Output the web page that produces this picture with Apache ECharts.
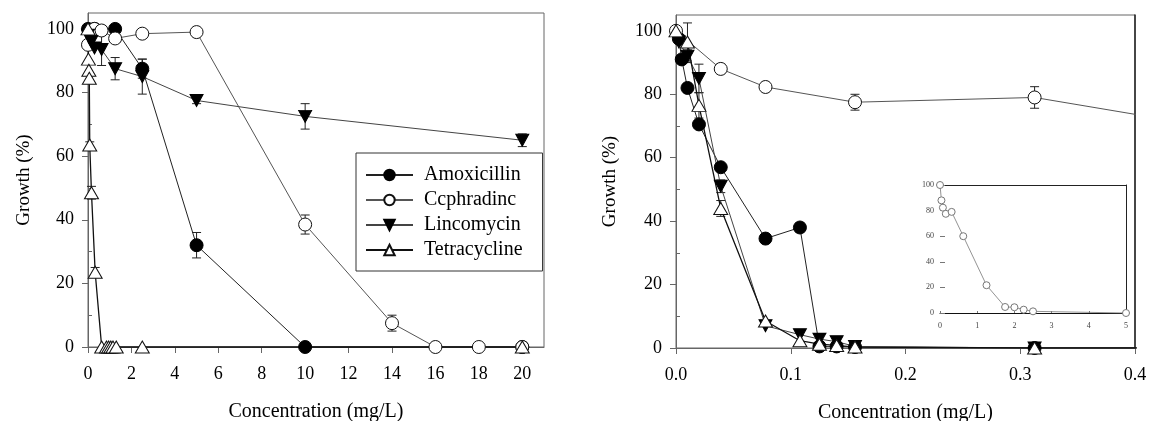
<!DOCTYPE html>
<html><head><meta charset="utf-8">
<script src="https://cdn.jsdelivr.net/npm/echarts@6/dist/echarts.min.js"></script>
<style>html,body{margin:0;padding:0;background:#fff}#c{width:1149px;height:421px}</style>
</head><body><div id="c"></div>
<script>
// ---------- Data: left panel (0-21 mg/L) ----------
const seriesNames = ['Amoxicillin', 'Ccphradinc', 'Lincomycin', 'Tetracycline'];

const L_amox_x = [0, 0.3, 1.25, 2.5, 5, 10, 20];
const L_amox_y = [100, 100, 100, 87.5, 32, 0, 0];
const L_amox_e = [0, 0, 0, 3, 4, 0, 0];

const L_ceph_x = [0, 0.3, 0.625, 1.25, 2.5, 5, 10, 14, 16, 18, 20];
const L_ceph_y = [95, 100, 99.5, 97, 98.5, 99, 38.5, 7.5, 0, 0, 0];
const L_ceph_e = [0, 0, 1.5, 0, 0, 0, 3, 2.5, 0, 0, 0];

const L_linc_x = [0, 0.15, 0.3, 0.625, 1.25, 2.5, 5, 10, 20];
const L_linc_y = [98, 96, 94, 93.5, 87.5, 85, 77.5, 72.5, 65];
const L_linc_e = [0, 0, 0, 5, 3.5, 5.5, 1, 4, 2];

const L_tetr_x = [0, 0.02, 0.04, 0.06, 0.08, 0.16, 0.33, 0.63, 0.85, 0.95, 1.05, 1.15, 1.3, 2.5, 20];
const L_tetr_y = [100, 90.5, 87, 84.5, 63.5, 48.5, 23.5, 0, 0, 0, 0, 0, 0, 0, 0];
const L_tetr_e = [0, 0, 0, 0, 1, 2, 1.5, 0, 0, 0, 0, 0, 0, 0, 0];

// ---------- Data: right panel (0-0.4 mg/L) ----------
const R_amox_x = [0.0025, 0.005, 0.01, 0.02, 0.039, 0.078, 0.108, 0.125, 0.14, 0.156, 0.3125, 0.625];
const R_amox_y = [97.5, 91, 82, 70.5, 57, 34.5, 38, 0.5, 0.5, 0.3, 0, 0];
const R_amox_e = [0, 0, 0, 0, 0, 1, 1.5, 0, 0, 0, 0, 0];

const R_ceph_x = [0, 0.039, 0.078, 0.156, 0.3125, 0.625];
const R_ceph_y = [100, 88, 82.3, 77.5, 79, 60];
const R_ceph_e = [0, 1.5, 0, 2.5, 3.4, 0];

const R_linc_x = [0.0025, 0.01, 0.02, 0.039, 0.078, 0.108, 0.125, 0.14, 0.156, 0.3125, 0.625];
const R_linc_y = [96.5, 92, 85, 51, 7, 4.2, 2.8, 2, 0.5, 0, 0];
const R_linc_e = [0, 2, 4.5, 2, 0, 0, 0, 0, 0, 0, 0];

const R_tetr_x = [0, 0.01, 0.02, 0.039, 0.078, 0.108, 0.125, 0.14, 0.156, 0.3125, 0.625];
const R_tetr_y = [100, 96.5, 76.5, 44, 8.5, 2.3, 1.2, 0.8, 0.3, 0, 0];
const R_tetr_e = [0, 6, 4, 2.5, 0, 0, 0, 0, 0, 0, 0];

// ---------- Data: inset (Cephradine, 0-5 mg/L) ----------
const I_ceph_x = [0, 0.039, 0.078, 0.156, 0.3125, 0.625, 1.25, 1.75, 2, 2.25, 2.5, 5];
const I_ceph_y = [100, 88, 82.3, 77.5, 79, 60, 21.7, 4.7, 4.5, 2.6, 1.3, 0];

// ---------- Tick labels ----------
const L_xTicks = [0, 2, 4, 6, 8, 10, 12, 14, 16, 18, 20];
const yTicks = [0, 20, 40, 60, 80, 100];
const yMinorTicks = [10, 30, 50, 70, 90];
const R_xTicks = [0, 0.1, 0.2, 0.3, 0.4];
const I_xTicks = [0, 1, 2, 3, 4, 5];
const I_yTicks = [0, 20, 40, 60, 80, 100];

// ---------- Build ----------
const FONT = "'Liberation Serif', 'Times New Roman', 'DejaVu Serif', serif";
const AX = '#666';
function pts(xs, ys) { return xs.map((x, i) => [x, ys[i]]); }
function errs(xs, ys, es) { return xs.map((x, i) => [x, ys[i], es[i]]).filter(d => d[2] > 0); }

const styles = [
  { symbol: 'circle', symbolSize: 13, symbolRotate: 0, item: { color: '#000', borderColor: '#000', borderWidth: 1 }, line: '#222', lw: 1 },
  { symbol: 'circle', symbolSize: 13, symbolRotate: 0, item: { color: '#fff', borderColor: '#111', borderWidth: 1 }, line: '#555', lw: 1 },
  { symbol: 'triangle', symbolSize: [13, 12], symbolRotate: 180, item: { color: '#000', borderColor: '#000', borderWidth: 1 }, line: '#444', lw: 1 },
  { symbol: 'triangle', symbolSize: [14, 12], symbolRotate: 0, item: { color: '#fff', borderColor: '#111', borderWidth: 1 }, line: '#111', lw: 1.3 }
];

function lineSeries(idx, data, axisIdx, clip) {
  const s = styles[idx];
  return {
    type: 'line', name: seriesNames[idx], data: data,
    xAxisIndex: axisIdx, yAxisIndex: axisIdx,
    symbol: s.symbol, symbolSize: s.symbolSize, symbolRotate: s.symbolRotate,
    showSymbol: true, showAllSymbol: true, clip: clip,
    itemStyle: s.item, lineStyle: { color: s.line, width: s.lw },
    z: 3, silent: true, animation: false
  };
}

function errRender(params, api) {
  const x = api.value(0), y = api.value(1), e = api.value(2);
  const p1 = api.coord([x, y + e]), p2 = api.coord([x, y - e]);
  const w = 4.5;
  const st = { stroke: '#222', lineWidth: 1 };
  return { type: 'group', children: [
    { type: 'line', shape: { x1: p1[0], y1: p1[1], x2: p2[0], y2: p2[1] }, style: st },
    { type: 'line', shape: { x1: p1[0] - w, y1: p1[1], x2: p1[0] + w, y2: p1[1] }, style: st },
    { type: 'line', shape: { x1: p2[0] - w, y1: p2[1], x2: p2[0] + w, y2: p2[1] }, style: st }
  ]};
}
function errSeries(data, axisIdx) {
  return { type: 'custom', renderItem: errRender, data: data, xAxisIndex: axisIdx, yAxisIndex: axisIdx,
    encode: { x: 0, y: 1 }, z: 2, silent: true, animation: false, clip: false };
}

const labelStyle = { fontFamily: FONT, fontSize: 18, color: '#000' };
const nameStyle = { fontFamily: FONT, fontSize: 19, color: '#000' };

function mainX(grid, min, max, interval, ticks, fmt) {
  return {
    type: 'value', gridIndex: grid, min: min, max: max, interval: interval,
    axisLine: { show: true, onZero: false, lineStyle: { color: AX, width: 1 } },
    axisTick: { show: true, inside: false, length: 6, customValues: ticks, lineStyle: { color: AX } },
    axisLabel: Object.assign({ margin: 18, customValues: ticks, formatter: fmt }, labelStyle),
    splitLine: { show: false },
    name: 'Concentration (mg/L)', nameLocation: 'middle', nameGap: 55, nameTextStyle: Object.assign({}, nameStyle, { fontSize: 20 })
  };
}
function mainY(grid, gap) {
  return {
    type: 'value', gridIndex: grid, min: 0, max: 105, interval: 20,
    axisLine: { show: true, onZero: false, lineStyle: { color: AX, width: 1 } },
    axisTick: { show: true, inside: false, length: 6, customValues: yTicks, lineStyle: { color: AX } },
    axisLabel: Object.assign({ margin: 14, customValues: yTicks }, labelStyle),
    splitLine: { show: false },
    name: 'Growth (%)', nameLocation: 'middle', nameGap: gap, nameTextStyle: nameStyle
  };
}
function minorY(grid) {
  return {
    type: 'value', gridIndex: grid, min: 0, max: 105, interval: 10,
    axisLine: { show: false },
    axisTick: { show: true, inside: false, length: 4, customValues: yMinorTicks, lineStyle: { color: AX } },
    axisLabel: { show: false }, splitLine: { show: false }
  };
}

const option = {
  animation: false,
  backgroundColor: '#fff',
  grid: [
    { left: 88, top: 13, width: 456, height: 334, show: true, borderColor: AX, borderWidth: 1, backgroundColor: 'transparent', containLabel: false, outerBoundsMode: 'none' },
    { left: 676, top: 15, width: 459, height: 333, show: true, borderColor: AX, borderWidth: 1, backgroundColor: 'transparent', containLabel: false, outerBoundsMode: 'none' },
    { left: 940, top: 185, width: 186, height: 128, show: false, containLabel: false, outerBoundsMode: 'none' }
  ],
  legend: {
    data: seriesNames, left: 356, top: 153, orient: 'vertical',
    itemWidth: 47, itemHeight: 13, itemGap: 5, padding: [12, 20, 11, 9],
    borderColor: '#333', borderWidth: 1, backgroundColor: '#fff',
    selectedMode: false,
    textStyle: { fontFamily: FONT, fontSize: 20, color: '#000', padding: [0, 0, 0, 6] }
  },
  xAxis: [
    mainX(0, 0, 21, 2, L_xTicks, v => String(v)),
    mainX(1, 0, 0.4, 0.1, R_xTicks, v => v.toFixed(1)),
    { // inset bottom
      type: 'value', gridIndex: 2, min: 0, max: 5, interval: 1,
      axisLine: { show: true, onZero: false, lineStyle: { color: '#111', width: 1 } },
      axisTick: { show: true, inside: true, length: 2, customValues: I_xTicks, lineStyle: { color: '#777' } },
      axisLabel: { fontFamily: FONT, fontSize: 8, color: '#444', margin: 9, customValues: I_xTicks },
      splitLine: { show: false }
    },
    { // inset top frame
      type: 'value', gridIndex: 2, min: 0, max: 5, position: 'top',
      axisLine: { show: true, onZero: false, lineStyle: { color: '#222', width: 1 } },
      axisTick: { show: false }, axisLabel: { show: false }, splitLine: { show: false }
    }
  ],
  yAxis: [
    mainY(0, 54),
    mainY(1, 56),
    { // inset left
      type: 'value', gridIndex: 2, min: 0, max: 100, interval: 20,
      axisLine: { show: false },
      axisTick: { show: true, inside: true, length: 5, customValues: I_yTicks, lineStyle: { color: '#777' } },
      axisLabel: { fontFamily: FONT, fontSize: 8, color: '#444', margin: 6, customValues: I_yTicks },
      splitLine: { show: false }
    },
    { // inset right frame
      type: 'value', gridIndex: 2, min: 0, max: 100, position: 'right',
      axisLine: { show: true, onZero: false, lineStyle: { color: '#222', width: 1 } },
      axisTick: { show: false }, axisLabel: { show: false }, splitLine: { show: false }
    },
    minorY(0),
    minorY(1),
    { // right panel right frame (dark)
      type: 'value', gridIndex: 1, min: 0, max: 105, position: 'right',
      axisLine: { show: true, onZero: false, lineStyle: { color: '#222', width: 1.5 } },
      axisTick: { show: false }, axisLabel: { show: false }, splitLine: { show: false }
    }
  ],
  series: [
    errSeries([].concat(errs(L_amox_x, L_amox_y, L_amox_e), errs(L_ceph_x, L_ceph_y, L_ceph_e),
      errs(L_linc_x, L_linc_y, L_linc_e), errs(L_tetr_x, L_tetr_y, L_tetr_e)), 0),
    lineSeries(0, pts(L_amox_x, L_amox_y), 0, false),
    lineSeries(1, pts(L_ceph_x, L_ceph_y), 0, false),
    lineSeries(2, pts(L_linc_x, L_linc_y), 0, false),
    lineSeries(3, pts(L_tetr_x, L_tetr_y), 0, false),

    errSeries([].concat(errs(R_amox_x, R_amox_y, R_amox_e), errs(R_ceph_x, R_ceph_y, R_ceph_e),
      errs(R_linc_x, R_linc_y, R_linc_e), errs(R_tetr_x, R_tetr_y, R_tetr_e)), 1),
    lineSeries(0, pts(R_amox_x, R_amox_y), 1, true),
    lineSeries(1, pts(R_ceph_x, R_ceph_y), 1, true),
    lineSeries(2, pts(R_linc_x, R_linc_y), 1, true),
    lineSeries(3, pts(R_tetr_x, R_tetr_y), 1, true),

    {
      type: 'line', name: 'inset', data: pts(I_ceph_x, I_ceph_y), xAxisIndex: 2, yAxisIndex: 2,
      symbol: 'circle', symbolSize: 7, showSymbol: true, clip: false,
      itemStyle: { color: '#fff', borderColor: '#777', borderWidth: 1 },
      lineStyle: { color: '#777', width: 0.8 }, z: 3, silent: true, animation: false
    }
  ]
};

const chart = echarts.init(document.getElementById('c'), null, { renderer: 'canvas' });
chart.setOption(option);
</script>
</body></html>
